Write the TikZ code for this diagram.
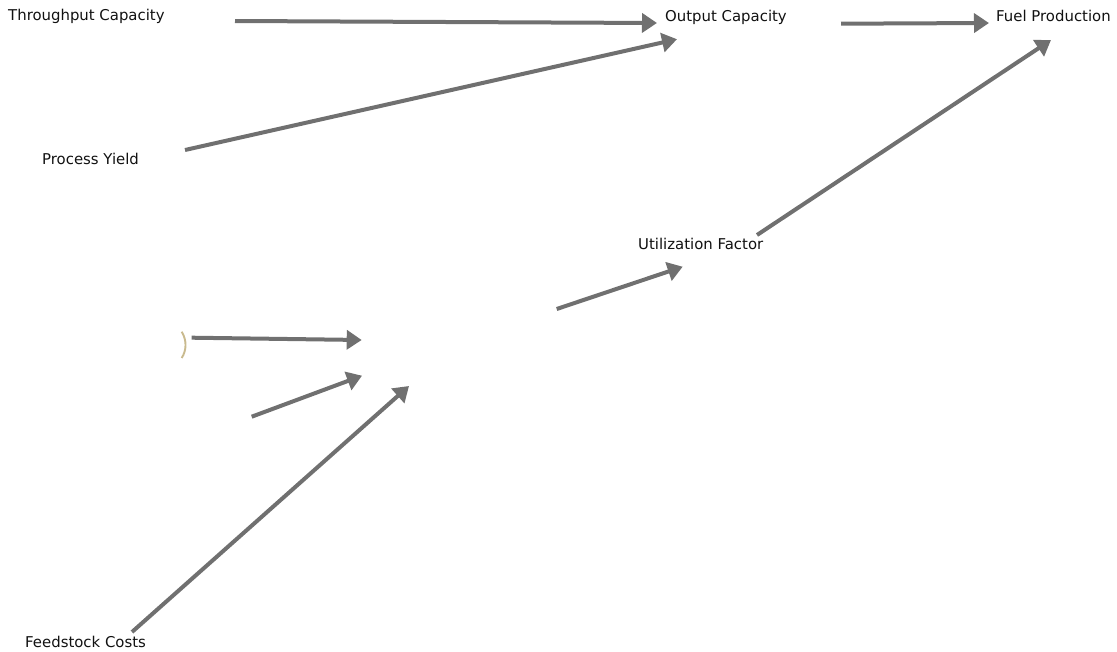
\documentclass[tikz,border=0pt]{standalone}
\usepackage{fontspec}
\setmainfont{DejaVu Sans}
\usetikzlibrary{arrows.meta}
\definecolor{linkgray}{HTML}{707070}
\definecolor{labelink}{HTML}{111111}
\definecolor{tan}{HTML}{C9BA8E}
\tikzset{
  varlabel/.style={anchor=base west, inner sep=0pt, text=labelink,
    font=\fontsize{14.9}{17}\selectfont},
  link/.style={draw=linkgray, line width=4pt,
    -{Triangle[length=15pt,width=19pt]}},
}
\begin{document}
\begin{tikzpicture}[x=1pt,y=-1pt]
\useasboundingbox (0,0) rectangle (1117,651);

% variable labels
\node[varlabel] (tp) at (8,20)    {Throughput Capacity};
\node[varlabel] (oc) at (665,21.7) {Output Capacity};
\node[varlabel] (fp) at (996,21.7) {Fuel Production};
\node[varlabel] (py) at (42,164)  {Process Yield};
\node[varlabel] (uf) at (638,249) {Utilization Factor};
\node[varlabel] (fc) at (25,647)  {Feedstock Costs};

% unlabelled ends of links
\coordinate (mid)   at (556.7,309);
\coordinate (inA)   at (361.7,340);
\coordinate (inB)   at (362,375.7);
\coordinate (inC)   at (409,386);
\coordinate (srcB)  at (251.7,416.7);
\coordinate (paren) at (191.7,337.7);

% small bracket mark
\draw[tan, line width=1.9pt] (181.7,331.7) .. controls (186.8,340) and (186.8,350) .. (181.7,358);

% links
\draw[link] ([shift={(227,1)}]tp.base west) -- ([shift={(-8,1.3)}]oc.base west);
\draw[link] ([shift={(143,-14)}]py.base west) -- ([shift={(12,17.5)}]oc.base west);
\draw[link] ([shift={(176,2)}]oc.base west) -- ([shift={(-7,1.3)}]fp.base west);
\draw[link] ([shift={(119,-14)}]uf.base west) -- ([shift={(55,18.3)}]fp.base west);
\draw[link] (mid) -- ([shift={(44.7,17.7)}]uf.base west);
\draw[link] (paren) -- (inA);
\draw[link] (srcB) -- (inB);
\draw[link] ([shift={(107,-15)}]fc.base west) -- (inC);
\end{tikzpicture}
\end{document}
